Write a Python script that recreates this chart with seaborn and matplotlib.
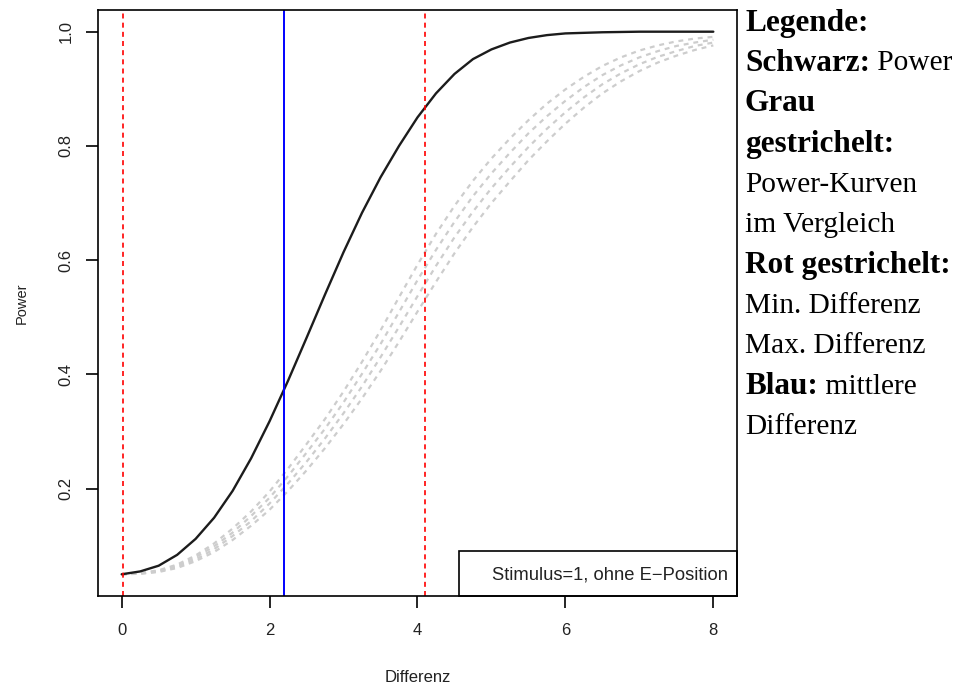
import matplotlib
matplotlib.use('Agg')
import matplotlib.pyplot as plt
import seaborn as sns
import numpy as np
import pandas as pd
from matplotlib.patches import Rectangle

# Differenz values (x) and power curves
differenz = [0.0, 0.25, 0.5, 0.75, 1.0, 1.25, 1.5, 1.75, 2.0, 2.25, 2.5, 2.75, 3.0,
             3.25, 3.5, 3.75, 4.0, 4.25, 4.5, 4.75, 5.0, 5.25, 5.5, 5.75, 6.0,
             6.25, 6.5, 6.75, 7.0, 7.25, 7.5, 7.75, 8.0]
power = [0.050, 0.055, 0.065, 0.084, 0.112, 0.149, 0.196, 0.253, 0.318, 0.389, 0.464,
         0.540, 0.614, 0.683, 0.745, 0.800, 0.850, 0.892, 0.926, 0.952, 0.969, 0.981,
         0.989, 0.994, 0.997, 0.998, 0.999, 0.9995, 1.0, 1.0, 1.0, 1.0, 1.0]
vergleich_1 = [0.050, 0.052, 0.057, 0.067, 0.083, 0.104, 0.130, 0.160, 0.195, 0.235, 0.278,
               0.322, 0.370, 0.422, 0.477, 0.535, 0.592, 0.646, 0.695, 0.739, 0.778, 0.813,
               0.845, 0.874, 0.899, 0.921, 0.940, 0.955, 0.967, 0.976, 0.983, 0.988, 0.991]
vergleich_2 = [0.050, 0.052, 0.056, 0.065, 0.080, 0.099, 0.123, 0.152, 0.184, 0.222, 0.263,
               0.305, 0.351, 0.401, 0.453, 0.509, 0.565, 0.618, 0.667, 0.712, 0.752, 0.788,
               0.822, 0.852, 0.879, 0.903, 0.924, 0.941, 0.955, 0.966, 0.975, 0.981, 0.986]
vergleich_3 = [0.050, 0.051, 0.055, 0.063, 0.076, 0.094, 0.117, 0.143, 0.174, 0.209, 0.247,
               0.288, 0.332, 0.379, 0.430, 0.483, 0.537, 0.590, 0.640, 0.685, 0.726, 0.763,
               0.798, 0.830, 0.859, 0.885, 0.908, 0.927, 0.943, 0.956, 0.966, 0.975, 0.981]
vergleich_4 = [0.050, 0.051, 0.054, 0.061, 0.073, 0.089, 0.110, 0.135, 0.163, 0.196, 0.232,
               0.271, 0.313, 0.358, 0.406, 0.457, 0.510, 0.562, 0.612, 0.658, 0.700, 0.738,
               0.775, 0.808, 0.839, 0.867, 0.892, 0.913, 0.931, 0.946, 0.958, 0.968, 0.976]
min_diff = 0.02
max_diff = 4.1
mid_diff = 2.19
x_ticks = [0, 2, 4, 6, 8]
y_ticks = [0.2, 0.4, 0.6, 0.8, 1.0]
legend_text = "Stimulus=1, ohne E\u2212Position"
side_lines = [
    [("Legende:", "bold")],
    [("Schwarz:", "bold"), (" Power", "normal")],
    [("Grau", "bold")],
    [("gestrichelt:", "bold")],
    [("Power-Kurven", "normal")],
    [("im Vergleich", "normal")],
    [("Rot gestrichelt:", "bold")],
    [("Min. Differenz", "normal")],
    [("Max. Differenz", "normal")],
    [("Blau:", "bold"), (" mittlere", "normal")],
    [("Differenz", "normal")],
]

sns.set_style("white")
plt.rcParams['font.family'] = ['Liberation Sans', 'DejaVu Sans']

fig = plt.figure(figsize=(9.58, 6.89), dpi=100)
ax = fig.add_axes([0.1023, 0.135, 0.667, 0.8505])

for vals in [vergleich_1, vergleich_2, vergleich_3, vergleich_4]:
    sns.lineplot(x=differenz, y=vals, ax=ax, color='#cdcdcd', linewidth=1.6,
                 linestyle=(0, (2.2, 2.2)))
sns.lineplot(x=differenz, y=power, ax=ax, color='#1c1c1c', linewidth=1.7)

ax.axvline(min_diff, color='#ff0000', linewidth=1.2, linestyle=(0, (3, 2.5)))
ax.axvline(max_diff, color='#ff0000', linewidth=1.2, linestyle=(0, (3, 2.5)))
ax.axvline(mid_diff, color='#0000ff', linewidth=1.4)

ax.set_xlim(-0.32, 8.32)
ax.set_ylim(0.012, 1.038)
ax.set_xticks(x_ticks)
ax.set_xticklabels([str(t) for t in x_ticks])
ax.set_yticks(y_ticks)
ax.set_yticklabels(["%.1f" % t for t in y_ticks])
ax.tick_params(axis='both', direction='out', length=8.6, width=1.2, color='black',
               labelsize=12, labelcolor='#222222', bottom=True, left=True)
ax.tick_params(axis='x', pad=11)
ax.tick_params(axis='y', pad=9, labelrotation=90)
for lab in ax.get_yticklabels():
    lab.set_va('center')
for sp in ax.spines.values():
    sp.set_visible(True)
    sp.set_color('black')
    sp.set_linewidth(1.2)

ax.set_xlabel("Differenz", fontsize=12, color='#222222')
ax.set_ylabel("Power", fontsize=10.5, color='#222222')
ax.xaxis.set_label_coords(0.5, -0.126)
ax.yaxis.set_label_coords(-0.108, 0.5)

# legend box in the lower right corner
ax.add_patch(Rectangle((0.565, 0.0), 0.435, 0.0773, transform=ax.transAxes,
                       fill=False, edgecolor='black', linewidth=1.2, clip_on=False))
ax.text(0.986, 0.036, legend_text, transform=ax.transAxes, ha='right', va='center',
        fontsize=13.2, color='#222222')

# text legend on the right side
renderer = fig.canvas.get_renderer()
W, H = fig.get_size_inches() * fig.dpi
for i, parts in enumerate(side_lines):
    y = 1 - (23 + i * 40.4) / H
    x = 745 / W
    for txt, weight in parts:
        size = 22.5 if weight == "bold" else 21.2
        t = fig.text(x, y, txt, fontsize=size, fontweight=weight, va='center', ha='left',
                     family=['Liberation Serif', 'DejaVu Serif'], color='black')
        x = t.get_window_extent(renderer).x1 / W

fig.savefig("out.png", dpi=100)
